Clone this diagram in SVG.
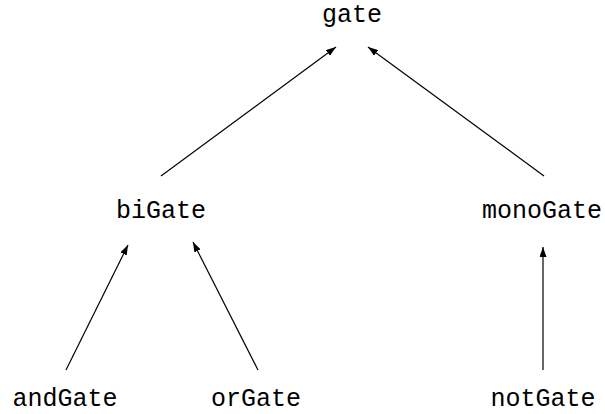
<svg xmlns="http://www.w3.org/2000/svg" width="605" height="414" viewBox="0 0 605 414">
  <style>
    .label { font-family: "Liberation Mono", "DejaVu Sans Mono", monospace; font-size: 25px; fill: #000; text-anchor: middle; }
    .edge { stroke: #000; stroke-width: 1.2; fill: none; marker-end: url(#arrow); }
  </style>
  <defs>
    <marker id="arrow" viewBox="0 0 10 7" refX="10" refY="3.5" markerWidth="10" markerHeight="7" markerUnits="userSpaceOnUse" orient="auto">
      <path d="M0,0 L10,3.5 L0,7 Z" fill="#000"/>
    </marker>
  </defs>
  <rect width="605" height="414" fill="#fff"/>

  <!-- inheritance edges: child points up to parent -->
  <g id="connectors">
    <line class="edge" x1="161" y1="176" x2="336" y2="47"/>
    <line class="edge" x1="544" y1="176" x2="368" y2="47"/>
    <line class="edge" x1="66" y1="370" x2="128" y2="245"/>
    <line class="edge" x1="258" y1="370" x2="193" y2="242"/>
    <line class="edge" x1="543" y1="370" x2="543" y2="247"/>
  </g>

  <g id="gate"><text class="label" x="352" y="22">gate</text></g>
  <g id="biGate"><text class="label" x="161" y="218">biGate</text></g>
  <g id="monoGate"><text class="label" x="542" y="218">monoGate</text></g>
  <g id="andGate"><text class="label" x="65" y="406">andGate</text></g>
  <g id="orGate"><text class="label" x="256" y="406">orGate</text></g>
  <g id="notGate"><text class="label" x="543" y="406">notGate</text></g>
</svg>
